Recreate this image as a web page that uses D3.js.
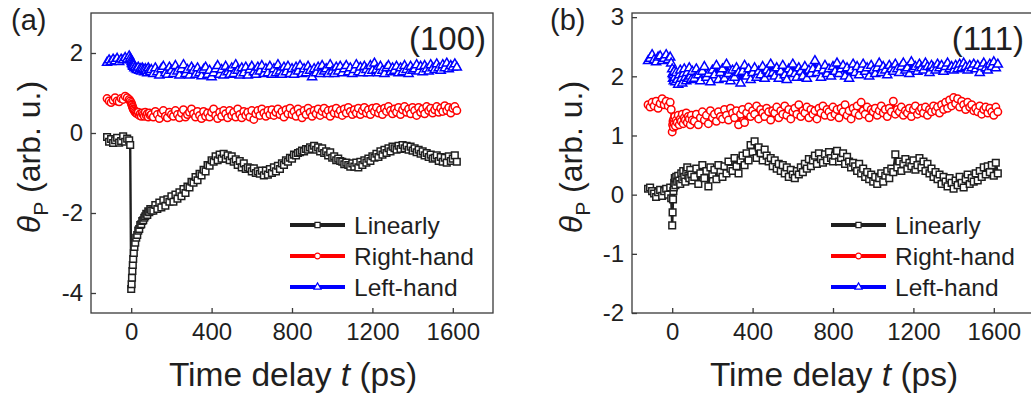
<!DOCTYPE html>
<html>
<head>
<meta charset="utf-8">
<script src="https://cdn.jsdelivr.net/npm/d3@7"></script>
<style>
  body { margin: 0; background: #fff; }
  svg { display: block; }
  text { font-family: "Liberation Sans", Arial, Helvetica, sans-serif; fill: #1f1f1f; }
</style>
</head>
<body>
<svg id="chart" width="1031" height="399"></svg>
<script>
// Pump-probe delay (ps); sampling is finer right after time zero.
const times = [
  -120,-110,-100,-90,-80,-70,-60,-50,-40,-30,-20,-10,-5,
  0,2,4,6,8,10,13,16,20,25,30,35,40,45,50,55,60,65,70,75,80,85,90,95,100,
  110,120,130,140,150,160,170,180,190,200,
  210,220,230,240,250,260,270,280,290,300,
  310,320,330,340,350,360,370,380,390,400,
  410,420,430,440,450,460,470,480,490,500,
  510,520,530,540,550,560,570,580,590,600,
  610,620,630,640,650,660,670,680,690,700,
  710,720,730,740,750,760,770,780,790,800,
  810,820,830,840,850,860,870,880,890,900,
  910,920,930,940,950,960,970,980,990,1000,
  1010,1020,1030,1040,1050,1060,1070,1080,1090,1100,
  1110,1120,1130,1140,1150,1160,1170,1180,1190,1200,
  1210,1220,1230,1240,1250,1260,1270,1280,1290,1300,
  1310,1320,1330,1340,1350,1360,1370,1380,1390,1400,
  1410,1420,1430,1440,1450,1460,1470,1480,1490,1500,
  1510,1520,1530,1540,1550,1560,1570,1580,1590,1600,
  1610,1620
];

// (a) (100) sample
const aLinear = [
  -0.10,-0.22,-0.15,-0.25,-0.18,-0.12,-0.24,-0.20,-0.08,-0.22,-0.14,-0.18,-0.30,
  -3.90,-3.78,-3.62,-3.45,-3.30,-3.15,-3.00,-2.85,-2.74,-2.62,-2.55,-2.44,-2.40,-2.30,-2.28,-2.20,-2.18,-2.12,-2.08,-2.02,-2.05,-1.96,-1.98,-1.90,-1.94,
  -1.94,-1.80,-1.90,-1.74,-1.86,-1.68,-1.82,-1.66,-1.72,-1.58,
  -1.72,-1.54,-1.64,-1.48,-1.58,-1.40,-1.50,-1.34,-1.36,-1.22,
  -1.24,-1.10,-1.18,-1.02,-1.06,-0.92,-0.96,-0.80,-0.82,-0.68,
  -0.72,-0.58,-0.68,-0.54,-0.64,-0.52,-0.64,-0.56,-0.68,-0.58,
  -0.72,-0.66,-0.80,-0.70,-0.86,-0.76,-0.90,-0.86,-0.88,-0.96,
  -0.88,-1.00,-0.96,-1.02,-0.94,-1.06,-0.94,-1.04,-0.90,-1.00,
  -0.86,-0.96,-0.82,-0.90,-0.76,-0.80,-0.68,-0.72,-0.62,-0.64,
  -0.54,-0.56,-0.50,-0.48,-0.44,-0.46,-0.40,-0.42,-0.36,-0.40,
  -0.32,-0.42,-0.36,-0.46,-0.38,-0.50,-0.46,-0.56,-0.48,-0.62,
  -0.58,-0.68,-0.64,-0.70,-0.72,-0.78,-0.74,-0.80,-0.84,-0.76,
  -0.84,-0.74,-0.86,-0.72,-0.80,-0.68,-0.74,-0.64,-0.70,-0.58,
  -0.62,-0.52,-0.60,-0.46,-0.54,-0.42,-0.50,-0.38,-0.46,-0.34,
  -0.38,-0.42,-0.32,-0.40,-0.30,-0.38,-0.32,-0.42,-0.34,-0.44,
  -0.38,-0.48,-0.42,-0.52,-0.46,-0.56,-0.50,-0.60,-0.54,-0.64,
  -0.62,-0.56,-0.70,-0.60,-0.72,-0.62,-0.74,-0.58,-0.70,-0.64,
  -0.56,-0.72
];
const aRight = [
  0.86,0.80,0.76,0.82,0.88,0.80,0.78,0.86,0.84,0.92,0.88,0.84,0.80,
  0.76,0.72,0.70,0.66,0.64,0.60,0.58,0.55,0.52,0.50,0.48,0.52,0.44,0.48,0.42,0.50,0.46,0.42,0.52,0.44,0.48,0.40,0.50,0.44,0.46,
  0.40,0.54,0.46,0.36,0.50,0.56,0.42,0.38,0.52,0.46,
  0.42,0.56,0.46,0.38,0.50,0.58,0.40,0.46,0.52,0.60,
  0.48,0.40,0.54,0.44,0.36,0.54,0.42,0.50,0.40,0.52,
  0.60,0.44,0.36,0.52,0.42,0.56,0.48,0.38,0.56,0.44,
  0.52,0.40,0.60,0.46,0.38,0.54,0.44,0.52,0.40,0.56,
  0.34,0.48,0.56,0.44,0.60,0.50,0.42,0.56,0.46,0.58,
  0.44,0.52,0.60,0.46,0.54,0.40,0.58,0.48,0.62,0.46,
  0.54,0.42,0.60,0.50,0.38,0.56,0.46,0.62,0.52,0.42,
  0.56,0.48,0.60,0.44,0.54,0.62,0.48,0.56,0.42,0.58,
  0.50,0.62,0.48,0.56,0.44,0.60,0.50,0.64,0.54,0.46,
  0.58,0.50,0.62,0.46,0.56,0.64,0.50,0.58,0.46,0.62,
  0.54,0.64,0.50,0.58,0.46,0.62,0.54,0.66,0.56,0.48,
  0.60,0.52,0.64,0.46,0.58,0.66,0.52,0.60,0.48,0.64,
  0.56,0.44,0.64,0.52,0.60,0.48,0.66,0.56,0.62,0.50,
  0.58,0.66,0.52,0.62,0.54,0.68,0.56,0.64,0.50,0.62,
  0.66,0.56
];
const aLeft = [
  1.76,1.82,1.78,1.84,1.80,1.86,1.78,1.84,1.82,1.88,1.84,1.92,1.86,
  1.82,1.78,1.74,1.72,1.70,1.66,1.68,1.62,1.64,1.60,1.58,1.64,1.56,1.60,1.54,1.62,1.58,1.52,1.60,1.56,1.50,1.62,1.56,1.52,1.58,
  1.48,1.62,1.52,1.44,1.60,1.66,1.50,1.46,1.64,1.56,
  1.48,1.68,1.54,1.44,1.60,1.70,1.48,1.58,1.44,1.64,
  1.56,1.46,1.62,1.50,1.42,1.58,1.64,1.46,1.56,1.40,
  1.50,1.60,1.68,1.46,1.58,1.44,1.66,1.52,1.46,1.62,
  1.48,1.70,1.56,1.44,1.62,1.50,1.64,1.44,1.58,1.66,
  1.52,1.46,1.64,1.54,1.68,1.48,1.60,1.50,1.66,1.46,
  1.60,1.50,1.70,1.54,1.46,1.64,1.52,1.66,1.48,1.60,
  1.46,1.64,1.54,1.68,1.48,1.60,1.50,1.66,1.56,1.40,
  1.60,1.50,1.64,1.48,1.68,1.54,1.60,1.48,1.70,1.54,
  1.48,1.64,1.54,1.66,1.50,1.60,1.68,1.52,1.62,1.48,
  1.58,1.70,1.52,1.64,1.50,1.66,1.58,1.50,1.68,1.56,
  1.74,1.58,1.50,1.66,1.56,1.48,1.62,1.68,1.52,1.62,
  1.56,1.66,1.50,1.62,1.52,1.68,1.58,1.48,1.66,1.56,
  1.60,1.70,1.54,1.66,1.52,1.68,1.60,1.54,1.70,1.62,
  1.58,1.72,1.62,1.56,1.70,1.62,1.74,1.60,1.68,1.64,
  1.72,1.64
];

// (b) (111) sample
const bLinear = [
  0.10,0.12,0.06,0.02,-0.04,0.04,0.08,-0.02,0.06,0.10,0.00,0.12,-0.06,
  -0.52,-0.30,-0.08,0.06,0.12,0.20,0.28,0.16,0.30,0.22,0.32,0.24,0.18,0.36,0.26,0.40,0.30,0.22,0.38,0.46,0.32,0.28,0.42,0.34,0.24,
  0.30,0.44,0.18,0.36,0.50,0.28,0.40,0.14,0.46,0.34,
  0.42,0.26,0.50,0.38,0.30,0.48,0.36,0.56,0.44,0.40,
  0.62,0.48,0.36,0.58,0.66,0.50,0.70,0.58,0.84,0.72,
  0.90,0.62,0.80,0.70,0.58,0.76,0.66,0.56,0.62,0.48,
  0.58,0.44,0.52,0.40,0.50,0.36,0.46,0.30,0.42,0.34,
  0.28,0.40,0.34,0.46,0.38,0.52,0.44,0.60,0.48,0.58,
  0.66,0.52,0.70,0.60,0.54,0.68,0.58,0.72,0.62,0.56,
  0.66,0.74,0.56,0.62,0.70,0.52,0.64,0.56,0.46,0.54,
  0.48,0.40,0.52,0.36,0.44,0.30,0.38,0.26,0.34,0.22,
  0.30,0.18,0.28,0.36,0.22,0.32,0.40,0.28,0.44,0.38,
  0.68,0.46,0.56,0.40,0.52,0.60,0.44,0.54,0.48,0.58,
  0.42,0.50,0.62,0.46,0.56,0.40,0.52,0.36,0.44,0.30,
  0.38,0.26,0.34,0.18,0.30,0.22,0.14,0.28,0.20,0.10,
  0.24,0.16,0.30,0.20,0.12,0.26,0.34,0.18,0.28,0.22,
  0.36,0.24,0.40,0.30,0.46,0.34,0.48,0.38,0.50,0.32,
  0.54,0.36
];
const bRight = [
  1.52,1.48,1.56,1.50,1.58,1.46,1.54,1.62,1.52,1.58,1.50,1.56,1.44,
  1.06,1.18,1.24,1.14,1.28,1.20,1.32,1.16,1.26,1.22,1.34,1.18,1.28,1.24,1.36,1.20,1.30,1.26,1.38,1.22,1.32,1.28,1.18,1.34,1.26,
  1.24,1.36,1.18,1.30,1.40,1.26,1.34,1.20,1.42,1.30,
  1.36,1.24,1.40,1.32,1.28,1.44,1.34,1.26,1.46,1.38,
  1.30,1.42,1.18,1.36,1.44,1.22,1.38,1.48,1.32,1.42,
  1.36,1.50,1.28,1.44,1.38,1.32,1.46,1.40,1.26,1.42,
  1.38,1.48,1.30,1.42,1.36,1.50,1.34,1.44,1.28,1.40,
  1.46,1.36,1.52,1.32,1.42,1.38,1.48,1.30,1.44,1.36,
  1.42,1.28,1.46,1.38,1.50,1.34,1.44,1.40,1.32,1.48,
  1.36,1.44,1.30,1.46,1.40,1.52,1.34,1.42,1.28,1.46,
  1.38,1.50,1.34,1.56,1.42,1.36,1.48,1.30,1.44,1.40,
  1.46,1.34,1.42,1.50,1.38,1.44,1.32,1.46,1.40,1.58,
  1.36,1.44,1.40,1.48,1.34,1.42,1.38,1.46,1.32,1.44,
  1.50,1.36,1.42,1.46,1.38,1.48,1.34,1.44,1.40,1.50,
  1.42,1.48,1.38,1.52,1.44,1.56,1.46,1.60,1.50,1.64,
  1.54,1.62,1.48,1.58,1.52,1.44,1.56,1.48,1.52,1.42,
  1.46,1.40,1.50,1.36,1.44,1.48,1.38,1.46,1.40,1.34,
  1.48,1.40
];
const bLeft = [
  2.26,2.30,2.36,2.28,2.24,2.32,2.34,2.26,2.30,2.36,2.28,2.32,2.22,
  2.12,2.04,1.96,2.02,1.92,2.08,1.98,1.90,2.06,1.94,1.86,2.02,2.10,1.96,1.88,2.04,2.12,1.98,1.92,2.06,1.96,2.14,2.00,1.94,2.08,
  1.96,2.12,2.02,1.92,2.08,2.16,1.98,2.04,1.90,2.10,
  2.02,2.18,1.94,2.06,2.12,1.96,2.20,2.04,1.92,2.10,
  1.98,2.14,2.06,1.88,2.08,2.18,2.00,2.12,1.94,2.06,
  2.14,1.98,2.08,2.02,2.16,1.96,2.10,2.04,2.20,2.06,
  2.00,2.14,1.96,2.08,2.18,2.02,1.94,2.12,2.06,2.20,
  2.04,1.98,2.14,2.08,2.00,2.16,1.96,2.10,2.04,2.12,
  2.26,2.06,2.14,1.98,2.10,2.18,2.04,2.12,2.00,2.16,
  2.08,2.22,2.04,2.12,2.18,2.00,2.14,1.96,2.10,2.20,
  2.06,2.16,2.02,2.12,2.20,2.08,2.14,2.00,2.18,2.10,
  2.04,2.14,2.22,2.06,2.16,2.10,2.02,2.18,2.12,2.08,
  2.20,2.12,2.06,2.16,2.22,2.10,2.14,2.04,2.24,2.12,
  2.16,2.08,2.20,2.14,2.10,2.22,2.16,2.06,2.18,2.14,
  2.10,2.20,2.14,2.18,2.08,2.16,2.22,2.12,2.16,2.10,
  2.18,2.12,2.20,2.14,2.22,2.16,2.10,2.18,2.14,2.20,
  2.12,2.18,2.06,2.16,2.22,2.14,2.10,2.20,2.16,2.24,
  2.14,2.20
];

const seriesNames = ["Linearly", "Right-hand", "Left-hand"];
const seriesColors = ["#1f1f1f", "#ff0000", "#0000ff"];
const seriesShapes = [d3.symbolSquare, d3.symbolCircle, d3.symbolTriangle];
const markerSizes = [44, 44, 36];

const xTicks = [0, 400, 800, 1200, 1600];
const aYTicks = [-4, -2, 0, 2];
const bYTicks = [-2, -1, 0, 1, 2, 3];

const panels = [
  { tag: "(a)", facet: "(100)", left: 91, right: 493, yDomain: [-4.5, 3], yTicks: aYTicks,
    data: [aLinear, aRight, aLeft], tagX: 11, titleX: 40 },
  { tag: "(b)", facet: "(111)", left: 632, right: 1034, yDomain: [-2, 3.07], yTicks: bYTicks,
    data: [bLinear, bRight, bLeft], tagX: 550, titleX: 582 }
];

const plotTop = 13, plotBottom = 313;
const svg = d3.select("#chart");
const plainNumber = d => String(d);

panels.forEach(p => {
  const x = d3.scaleLinear().domain([-200, 1800]).range([p.left, p.right]);
  const y = d3.scaleLinear().domain(p.yDomain).range([plotBottom, plotTop]);
  const g = svg.append("g");

  // series: connecting line, then open markers on top
  p.data.forEach((vals, i) => {
    const pts = times.map((t, k) => [t, vals[k]]);
    g.append("path")
      .datum(pts)
      .attr("fill", "none")
      .attr("stroke", seriesColors[i])
      .attr("stroke-width", 2.4)
      .attr("stroke-linejoin", "round")
      .attr("d", d3.line().x(d => x(d[0])).y(d => y(d[1])));
    const sym = d3.symbol().type(seriesShapes[i]).size(markerSizes[i]);
    g.append("g").selectAll("path")
      .data(pts)
      .join("path")
      .attr("transform", d => `translate(${x(d[0])},${y(d[1])})`)
      .attr("d", sym)
      .attr("fill", "#fff")
      .attr("stroke", seriesColors[i])
      .attr("stroke-width", 1.5);
  });

  // frame
  g.append("rect")
    .attr("x", p.left).attr("y", plotTop)
    .attr("width", p.right - p.left).attr("height", plotBottom - plotTop)
    .attr("fill", "none").attr("stroke", "#3a3a3a").attr("stroke-width", 1.3);

  // axes with inward ticks
  const xAxis = g.append("g")
    .attr("transform", `translate(0,${plotBottom})`)
    .call(d3.axisBottom(x).tickValues(xTicks).tickSize(-5).tickPadding(10).tickFormat(plainNumber));
  const yAxis = g.append("g")
    .attr("transform", `translate(${p.left},0)`)
    .call(d3.axisLeft(y).tickValues(p.yTicks).tickSize(-5).tickPadding(8).tickFormat(plainNumber));
  [xAxis, yAxis].forEach(a => {
    a.select(".domain").remove();
    a.selectAll(".tick line").attr("stroke", "#3a3a3a").attr("stroke-width", 1.3);
    a.selectAll(".tick text").attr("font-size", 24).attr("fill", "#1f1f1f")
      .attr("font-family", '"Liberation Sans", Arial, sans-serif');
  });

  // x axis title
  const xt = g.append("text")
    .attr("x", (p.left + p.right) / 2 + 1).attr("y", 386)
    .attr("text-anchor", "middle").attr("font-size", 33.5);
  xt.append("tspan").text("Time delay ");
  xt.append("tspan").attr("font-style", "italic").text("t");
  xt.append("tspan").text(" (ps)");

  // y axis title
  const yt = g.append("text")
    .attr("transform", `translate(${p.titleX},${(plotTop + plotBottom) / 2 - 6}) rotate(-90)`)
    .attr("text-anchor", "middle").attr("font-size", 32);
  yt.append("tspan").attr("font-style", "italic").text("θ");
  yt.append("tspan").attr("font-size", 21).attr("dy", 8).text("P");
  yt.append("tspan").attr("dy", -8).text(" (arb. u.)");

  // panel tag and facet label
  g.append("text").attr("x", p.tagX).attr("y", 30).attr("font-size", 29).text(p.tag);
  g.append("text").attr("x", Math.min(p.right, 1031) - 7).attr("y", 50)
    .attr("text-anchor", "end").attr("font-size", 33).text(p.facet);

  // legend
  const lx0 = p.right - 203, lx1 = lx0 + 55;
  seriesNames.forEach((name, i) => {
    const ly = 225 + i * 31;
    g.append("line").attr("x1", lx0).attr("x2", lx1).attr("y1", ly).attr("y2", ly)
      .attr("stroke", seriesColors[i]).attr("stroke-width", 4);
    g.append("path")
      .attr("transform", `translate(${(lx0 + lx1) / 2},${ly})`)
      .attr("d", d3.symbol().type(seriesShapes[i]).size(i === 2 ? 22 : 26))
      .attr("fill", "#fff").attr("stroke", seriesColors[i]).attr("stroke-width", 1.2);
    g.append("text").attr("x", lx1 + 9).attr("y", ly).attr("dy", "0.35em")
      .attr("font-size", 24.5).text(name);
  });
});
</script>
</body>
</html>
